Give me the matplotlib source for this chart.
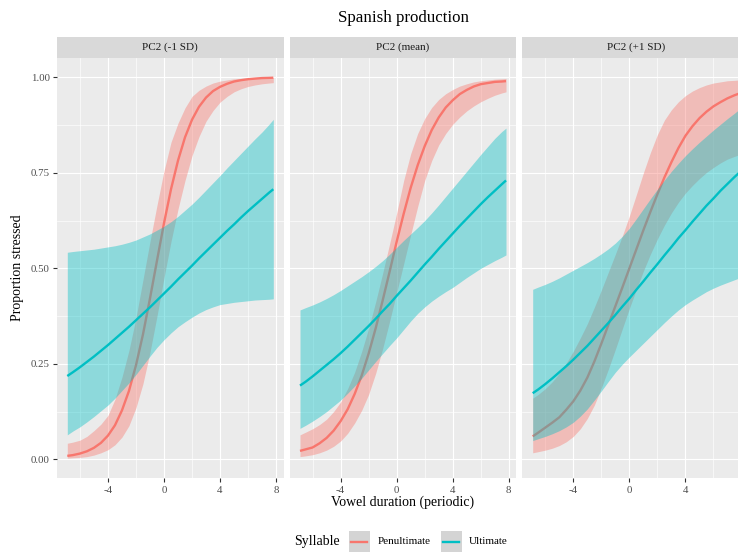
import matplotlib
matplotlib.use("Agg")
import matplotlib.pyplot as plt
from matplotlib.patches import Rectangle
from matplotlib.lines import Line2D

plt.rcParams['font.family'] = ['Liberation Serif', 'DejaVu Serif']

# ---------------- data ----------------
x_vals = [-6.9, -6.5, -6, -5.5, -5, -4.5, -4, -3.5, -3, -2.5, -2, -1.5, -1, -0.5, 0,
          0.5, 1, 1.5, 2, 2.5, 3, 3.5, 4, 4.5, 5, 5.5, 6, 6.5, 7, 7.5, 7.8]

panel_titles = ["PC2 (-1 SD)", "PC2 (mean)", "PC2 (+1 SD)"]
syllables = ["Penultimate", "Ultimate"]

# Panel 1: PC2 (-1 SD)
p1_pen_fit = [.009, .011, .015, .021, .030, .043, .062, .089, .128, .179, .246, .327, .421, .520, .618,
              .707, .782, .843, .889, .923, .947, .964, .975, .983, .989, .9925, .995, .9966, .998, .9985, .999]
p1_pen_lo = [.003, .004, .005, .007, .011, .017, .025, .038, .058, .088, .135, .198, .280, .375, .475,
             .570, .655, .730, .795, .845, .885, .913, .935, .950, .962, .970, .976, .980, .983, .985, .986]
p1_pen_hi = [.042, .045, .050, .060, .075, .092, .115, .157, .215, .285, .370, .470, .570, .665, .755,
             .830, .880, .920, .950, .966, .977, .985, .990, .993, .996, .997, .998, .9985, .999, .9995, 1.0]
p1_ult_fit = [.218, .228, .241, .255, .269, .284, .299, .315, .331, .347, .364, .381, .398, .416, .434,
              .452, .471, .489, .507, .526, .544, .562, .580, .598, .615, .633, .650, .666, .682, .698, .707]
p1_ult_lo = [.064, .074, .085, .098, .112, .127, .142, .160, .180, .200, .222, .246, .270, .293, .313,
             .331, .347, .360, .372, .383, .392, .399, .405, .408, .411, .413, .415, .417, .418, .419, .420]
p1_ult_hi = [.542, .544, .546, .548, .550, .553, .556, .559, .563, .568, .574, .582, .590, .600, .610,
             .622, .636, .652, .668, .686, .705, .724, .743, .763, .782, .801, .820, .839, .857, .877, .890]

# Panel 2: PC2 (mean)
p2_pen_fit = [.022, .026, .031, .042, .056, .075, .100, .131, .171, .219, .277, .343, .416, .492, .570,
              .643, .711, .770, .820, .862, .895, .921, .940, .956, .967, .976, .982, .985, .988, .989, .990]
p2_pen_lo = [.007, .009, .012, .017, .024, .034, .048, .068, .095, .128, .170, .225, .290, .362, .437,
             .512, .588, .662, .730, .782, .823, .853, .877, .896, .912, .925, .936, .945, .953, .959, .962]
p2_pen_hi = [.064, .071, .080, .091, .105, .125, .150, .185, .228, .282, .343, .412, .487, .565, .645,
             .730, .800, .853, .892, .921, .942, .957, .968, .977, .983, .988, .991, .993, .995, .996, .997]
p2_ult_fit = [.193, .203, .217, .232, .247, .262, .278, .295, .313, .331, .349, .368, .388, .407, .428,
              .448, .468, .489, .510, .530, .551, .571, .591, .611, .630, .649, .668, .686, .703, .720, .730]
p2_ult_lo = [.081, .089, .100, .112, .125, .140, .155, .173, .192, .212, .234, .256, .277, .298, .318,
             .340, .362, .382, .399, .414, .427, .439, .450, .463, .476, .488, .500, .510, .520, .529, .535]
p2_ult_hi = [.391, .397, .404, .412, .421, .431, .442, .454, .466, .478, .491, .505, .520, .537, .555,
             .573, .590, .607, .625, .645, .666, .688, .710, .732, .754, .776, .798, .819, .840, .858, .867]

# Panel 3: PC2 (+1 SD)
p3_pen_fit = [.060, .070, .083, .096, .110, .130, .152, .180, .214, .256, .303, .352, .401, .450, .500,
              .550, .600, .648, .694, .738, .778, .815, .847, .872, .893, .910, .924, .935, .945, .953, .957]
p3_pen_lo = [.017, .020, .024, .029, .036, .046, .060, .080, .107, .142, .187, .236, .288, .342, .395,
             .445, .493, .537, .577, .613, .645, .673, .697, .717, .735, .751, .764, .776, .786, .793, .797]
p3_pen_hi = [.160, .170, .185, .203, .225, .252, .283, .318, .355, .398, .443, .490, .537, .585, .637,
             .693, .750, .803, .850, .888, .915, .936, .952, .964, .973, .980, .985, .988, .991, .992, .993]
p3_ult_fit = [.173, .183, .197, .212, .228, .244, .261, .279, .297, .317, .337, .357, .378, .400, .421,
              .444, .466, .489, .511, .534, .556, .579, .600, .622, .643, .664, .683, .703, .721, .739, .749]
p3_ult_lo = [.049, .054, .060, .067, .075, .085, .097, .113, .132, .155, .179, .204, .228, .249, .268,
             .286, .304, .322, .340, .358, .375, .391, .405, .417, .428, .439, .448, .456, .463, .470, .474]
p3_ult_hi = [.445, .451, .458, .466, .475, .485, .495, .505, .515, .526, .538, .551, .566, .584, .605,
             .630, .656, .682, .707, .731, .754, .775, .795, .813, .830, .846, .862, .877, .892, .906, .915]

x_ticks = [-4, 0, 4, 8]
x_tick_labels = ["-4", "0", "4", "8"]
y_ticks = [0.0, 0.25, 0.5, 0.75, 1.0]
y_tick_labels = ["0.00", "0.25", "0.50", "0.75", "1.00"]

# ---------------- style ----------------
colors = {"Penultimate": "#F8766D", "Ultimate": "#00BFC4"}
panel_bg = "#EBEBEB"
strip_bg = "#D9D9D9"
W, H = 738, 552

fig = plt.figure(figsize=(W / 100, H / 100), dpi=100)

panels = [
    (p1_pen_fit, p1_pen_lo, p1_pen_hi, p1_ult_fit, p1_ult_lo, p1_ult_hi),
    (p2_pen_fit, p2_pen_lo, p2_pen_hi, p2_ult_fit, p2_ult_lo, p2_ult_hi),
    (p3_pen_fit, p3_pen_lo, p3_pen_hi, p3_ult_fit, p3_ult_lo, p3_ult_hi),
]

panel_left_px = [57.0, 289.7, 522.4]
panel_w_px = 226.6
panel_top_px = 58.2
panel_bot_px = 478.4
strip_top_px = 36.7

xr = (min(x_vals), max(x_vals))
xpad = 0.05 * (xr[1] - xr[0])

for i, (pf, pl, ph, uf, ul, uh) in enumerate(panels):
    left = panel_left_px[i] / W
    ax = fig.add_axes([left, 1 - panel_bot_px / H, panel_w_px / W, (panel_bot_px - panel_top_px) / H])
    ax.set_facecolor(panel_bg)
    for s in ax.spines.values():
        s.set_visible(False)
    ax.set_xlim(xr[0] - xpad, xr[1] + xpad)
    ax.set_ylim(-0.05, 1.05)
    ax.set_xticks(x_ticks)
    ax.set_xticklabels(x_tick_labels)
    ax.set_xticks([-6, -2, 2, 6], minor=True)
    ax.set_yticks(y_ticks)
    ax.set_yticks([0.125, 0.375, 0.625, 0.875], minor=True)
    if i == 0:
        ax.set_yticklabels(y_tick_labels)
    else:
        ax.tick_params(axis='y', which='major', labelleft=False)
    ax.tick_params(axis='both', which='major', length=3.2, width=0.8, color='#333333',
                   labelsize=7.8, labelcolor='#4D4D4D', pad=2.0)
    if i != 0:
        ax.tick_params(axis='y', which='major', length=0)
    ax.tick_params(axis='both', which='minor', length=0)
    ax.grid(True, which='major', color='white', linewidth=0.85)
    ax.grid(True, which='minor', color='white', linewidth=0.45)
    ax.set_axisbelow(True)
    if i == 2:
        # the last tick label falls outside the (cropped) figure, as in the reference
        ax.get_xticklabels()[-1].set_visible(False)

    # Penultimate: ribbon then line; Ultimate: ribbon then line
    ax.fill_between(x_vals, pl, ph, color=colors["Penultimate"], alpha=0.4, linewidth=0, zorder=2)
    ax.plot(x_vals, pf, color=colors["Penultimate"], lw=1.7, zorder=3,
            solid_capstyle='butt', solid_joinstyle='round')
    ax.fill_between(x_vals, ul, uh, color=colors["Ultimate"], alpha=0.4, linewidth=0, zorder=4)
    ax.plot(x_vals, uf, color=colors["Ultimate"], lw=1.7, zorder=5,
            solid_capstyle='butt', solid_joinstyle='round')

    # strip
    sax = fig.add_axes([left, 1 - panel_top_px / H, panel_w_px / W, (panel_top_px - strip_top_px) / H])
    sax.set_facecolor(strip_bg)
    sax.set_xticks([])
    sax.set_yticks([])
    for s in sax.spines.values():
        s.set_visible(False)
    sax.text(0.5, 0.5, panel_titles[i], ha='center', va='center', fontsize=8.0,
             color='#1A1A1A', transform=sax.transAxes)

# titles
center_x = (panel_left_px[0] + panel_left_px[2] + panel_w_px) / 2 / W
fig.text(center_x, 1 - 18.5 / H, "Spanish production", ha='center', va='center', fontsize=12.2)
fig.text(center_x, 1 - 502.5 / H, "Vowel duration (periodic)", ha='center', va='center', fontsize=10)
fig.text(18 / W, 1 - 268 / H, "Proportion stressed", ha='center', va='center', rotation=90, fontsize=10)

# legend
ly = 541.5
fig.text(294 / W, 1 - ly / H, "Syllable", ha='left', va='center', fontsize=10)
key_x = [348.5, 440.5]
lab_x = [377.3, 469.3]
for k, syl in enumerate(syllables):
    fig.patches.append(Rectangle((key_x[k] / W, 1 - 552 / H), 21 / W, 21 / H,
                                 transform=fig.transFigure, facecolor='#D4D4D4', edgecolor='none'))
    fig.lines.append(Line2D([(key_x[k] + 2.5) / W, (key_x[k] + 18.5) / W], [1 - ly / H, 1 - ly / H],
                            transform=fig.transFigure, color=colors[syl], lw=1.7))
    fig.text(lab_x[k] / W, 1 - ly / H, syl, ha='left', va='center', fontsize=8.0)

fig.savefig("out.png", dpi=100)
